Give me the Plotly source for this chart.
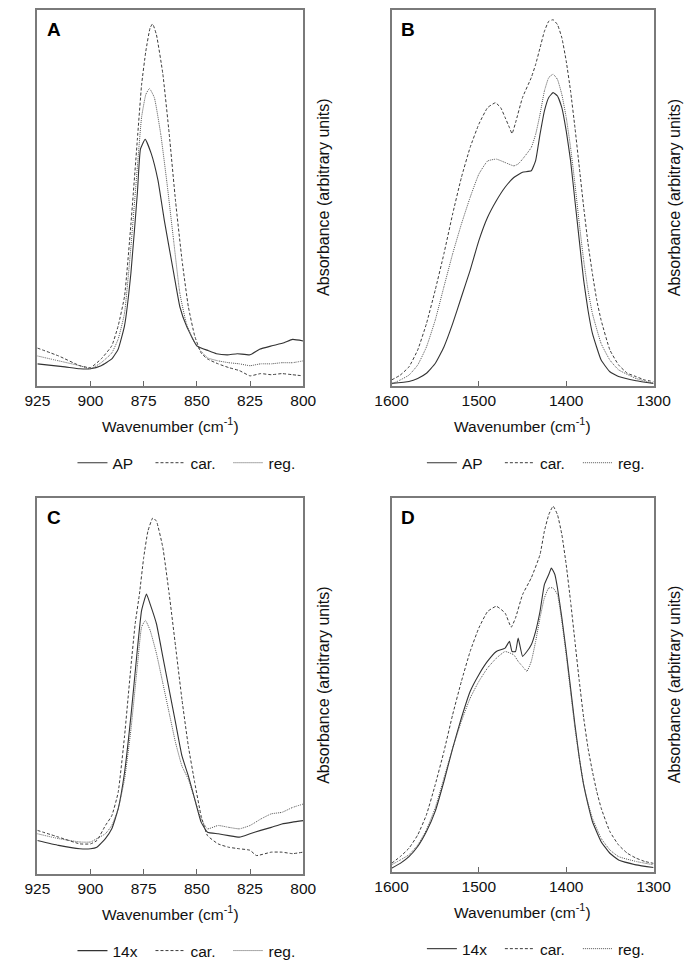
import plotly.graph_objects as go

# ---------------- data ----------------
# Panel A (870 cm-1 region)
A_ap_wn = [925, 912, 905, 900, 895, 890, 887, 884, 881, 878, 876.5, 874.3, 871.4, 868.3, 865.3, 860.9, 858, 854.9, 850, 844.6, 840.8, 835.6, 831, 825, 820.5, 814.7, 809, 805, 800]
A_ap = [0.058, 0.050, 0.045, 0.045, 0.053, 0.071, 0.097, 0.16, 0.30, 0.51, 0.63, 0.656, 0.617, 0.547, 0.44, 0.30, 0.21, 0.159, 0.106, 0.093, 0.085, 0.082, 0.085, 0.082, 0.097, 0.106, 0.114, 0.123, 0.119]
A_car_wn = [925, 915, 905, 900, 895, 890, 887, 884, 881, 878, 876, 874, 872, 870.8, 869, 866, 863, 860, 857, 854, 851, 848, 845, 840, 835, 830, 825, 820, 815, 810, 805, 800]
A_car = [0.10, 0.079, 0.053, 0.048, 0.071, 0.106, 0.159, 0.238, 0.43, 0.653, 0.80, 0.89, 0.952, 0.963, 0.934, 0.83, 0.67, 0.49, 0.335, 0.21, 0.132, 0.087, 0.071, 0.058, 0.048, 0.04, 0.026, 0.032, 0.029, 0.032, 0.029, 0.026]
A_reg_wn = [925, 915, 905, 900, 895, 890, 887, 884, 881, 878, 876, 874, 872.3, 870, 867, 864, 861, 858, 855, 852, 849, 845, 840, 835, 830, 825, 820, 815, 810, 805, 800]
A_reg = [0.079, 0.066, 0.053, 0.045, 0.061, 0.087, 0.124, 0.193, 0.37, 0.58, 0.714, 0.775, 0.791, 0.767, 0.67, 0.537, 0.39, 0.246, 0.167, 0.124, 0.098, 0.074, 0.066, 0.061, 0.058, 0.053, 0.058, 0.058, 0.061, 0.061, 0.066]

# Panel B (1400-1500 cm-1 region)
B_ap_wn = [1600, 1580, 1570, 1560, 1550, 1540, 1530, 1520, 1510, 1500, 1490, 1480, 1470, 1460, 1450, 1440, 1435, 1430, 1425, 1420, 1415, 1410, 1405, 1400, 1395, 1390, 1385, 1380, 1375, 1370, 1360, 1350, 1340, 1320, 1300]
B_ap = [0.006, 0.011, 0.019, 0.033, 0.059, 0.103, 0.165, 0.236, 0.307, 0.386, 0.448, 0.492, 0.528, 0.554, 0.568, 0.572, 0.599, 0.669, 0.731, 0.767, 0.78, 0.771, 0.740, 0.678, 0.599, 0.492, 0.386, 0.280, 0.2, 0.139, 0.068, 0.037, 0.024, 0.013, 0.006]
B_car_wn = [1600, 1590, 1580, 1570, 1560, 1550, 1540, 1530, 1520, 1510, 1500, 1490, 1481, 1475, 1470, 1465, 1462, 1458, 1450, 1440, 1435, 1430, 1425, 1420, 1415, 1410, 1405, 1400, 1395, 1390, 1385, 1380, 1375, 1370, 1365, 1360, 1350, 1340, 1330, 1320, 1310, 1300]
B_car = [0.015, 0.028, 0.05, 0.095, 0.165, 0.254, 0.351, 0.457, 0.554, 0.634, 0.696, 0.74, 0.753, 0.74, 0.714, 0.687, 0.671, 0.70, 0.767, 0.82, 0.855, 0.899, 0.943, 0.97, 0.974, 0.961, 0.926, 0.864, 0.784, 0.687, 0.581, 0.475, 0.378, 0.298, 0.227, 0.174, 0.095, 0.055, 0.033, 0.024, 0.015, 0.011]
B_reg_wn = [1600, 1590, 1580, 1570, 1560, 1550, 1540, 1530, 1520, 1510, 1500, 1490, 1480, 1470, 1460, 1455, 1450, 1440, 1435, 1430, 1425, 1420, 1415, 1410, 1405, 1400, 1395, 1390, 1385, 1380, 1375, 1370, 1360, 1350, 1340, 1320, 1300]
B_reg = [0.004, 0.015, 0.028, 0.055, 0.103, 0.174, 0.263, 0.351, 0.43, 0.501, 0.563, 0.598, 0.603, 0.594, 0.585, 0.59, 0.603, 0.634, 0.669, 0.722, 0.784, 0.82, 0.829, 0.815, 0.775, 0.714, 0.634, 0.537, 0.431, 0.333, 0.254, 0.192, 0.112, 0.068, 0.042, 0.019, 0.006]

# Panel C (870 cm-1 region)
C_14x_wn = [925, 915, 905, 900, 897, 893, 890, 887, 884, 881, 878, 876, 873.7, 872, 869, 866, 863, 860, 857, 854, 851, 848, 845, 840, 835, 830, 825, 820, 815, 810, 805, 800]
C_14x = [0.088, 0.075, 0.066, 0.066, 0.07, 0.093, 0.119, 0.172, 0.269, 0.419, 0.595, 0.70, 0.744, 0.718, 0.665, 0.577, 0.489, 0.401, 0.313, 0.26, 0.198, 0.137, 0.11, 0.106, 0.101, 0.097, 0.106, 0.115, 0.123, 0.132, 0.137, 0.141]
C_car_wn = [925, 915, 905, 900, 897, 893, 890, 887, 884, 881, 879, 877, 875, 873, 870.7, 869, 866, 863, 860, 857, 854, 851, 848, 845, 840, 835, 830, 825, 822, 815, 810, 805, 800]
C_car = [0.115, 0.097, 0.079, 0.079, 0.088, 0.128, 0.154, 0.216, 0.366, 0.551, 0.665, 0.744, 0.841, 0.912, 0.947, 0.938, 0.868, 0.744, 0.604, 0.463, 0.339, 0.242, 0.154, 0.101, 0.079, 0.07, 0.066, 0.062, 0.048, 0.057, 0.057, 0.053, 0.057]
C_reg_wn = [925, 915, 905, 900, 897, 893, 890, 887, 884, 881, 878, 876, 874.2, 872, 869, 866, 863, 860, 857, 854, 851, 848, 845, 840, 835, 830, 825, 820, 815, 810, 805, 800]
C_reg = [0.106, 0.093, 0.084, 0.084, 0.093, 0.106, 0.128, 0.172, 0.251, 0.383, 0.551, 0.656, 0.674, 0.648, 0.586, 0.507, 0.427, 0.348, 0.286, 0.251, 0.198, 0.145, 0.119, 0.128, 0.123, 0.119, 0.128, 0.145, 0.159, 0.163, 0.176, 0.185]

# Panel D (1400-1500 cm-1 region)
D_14x_wn = [1600, 1590, 1580, 1570, 1560, 1550, 1540, 1530, 1520, 1510, 1500, 1490, 1480, 1470, 1465, 1462, 1458, 1455, 1450, 1445, 1440, 1435, 1430, 1425, 1420, 1417, 1413, 1410, 1405, 1400, 1395, 1390, 1385, 1380, 1375, 1370, 1360, 1350, 1340, 1320, 1300]
D_14x = [0.009, 0.022, 0.04, 0.067, 0.107, 0.161, 0.241, 0.33, 0.411, 0.482, 0.527, 0.563, 0.589, 0.598, 0.616, 0.589, 0.589, 0.625, 0.576, 0.589, 0.607, 0.643, 0.696, 0.768, 0.795, 0.8125, 0.795, 0.759, 0.679, 0.589, 0.491, 0.393, 0.304, 0.232, 0.179, 0.134, 0.080, 0.049, 0.031, 0.018, 0.011]
D_car_wn = [1600, 1590, 1580, 1570, 1560, 1550, 1540, 1530, 1520, 1510, 1500, 1490, 1480, 1470, 1463, 1458, 1450, 1440, 1430, 1425, 1420, 1415, 1410, 1405, 1400, 1395, 1390, 1385, 1380, 1375, 1370, 1365, 1360, 1350, 1340, 1330, 1320, 1310, 1300]
D_car = [0.022, 0.04, 0.0625, 0.098, 0.152, 0.232, 0.321, 0.42, 0.509, 0.589, 0.652, 0.696, 0.71, 0.692, 0.654, 0.679, 0.741, 0.786, 0.848, 0.911, 0.955, 0.978, 0.955, 0.902, 0.821, 0.723, 0.616, 0.509, 0.411, 0.33, 0.268, 0.214, 0.17, 0.107, 0.071, 0.049, 0.036, 0.027, 0.022]
D_reg_wn = [1600, 1590, 1580, 1570, 1560, 1550, 1540, 1530, 1520, 1510, 1500, 1490, 1480, 1470, 1460, 1455, 1450, 1445, 1440, 1435, 1430, 1425, 1420, 1415, 1410, 1405, 1400, 1395, 1390, 1385, 1380, 1375, 1370, 1360, 1350, 1340, 1320, 1300]
D_reg = [0.018, 0.031, 0.045, 0.071, 0.112, 0.17, 0.25, 0.33, 0.402, 0.464, 0.509, 0.545, 0.571, 0.589, 0.58, 0.5625, 0.549, 0.536, 0.5625, 0.616, 0.679, 0.732, 0.759, 0.759, 0.741, 0.67, 0.58, 0.482, 0.384, 0.304, 0.232, 0.183, 0.143, 0.089, 0.058, 0.04, 0.027, 0.018]

ticks_870 = [925, 900, 875, 850, 825, 800]
ticks_1400 = [1600, 1500, 1400, 1300]
x_title = "Wavenumber (cm<sup>-1</sup>)"
y_title = "Absorbance (arbitrary units)"

# ---------------- layout helpers ----------------
W, H = 693, 960
FONT = "Liberation Sans, Arial, Helvetica, sans-serif"
FS = 15.5

def px(p):
    return p / W

def py(p):
    return 1 - p / H

STYLES = {
    "solid": dict(color="#333333", width=1.1, dash="solid"),
    "car": dict(color="#3c3c3c", width=1.0, dash="3px,2px"),
    "reg": dict(color="#555555", width=1.0, dash="1px,1px"),
}

panels = [
    dict(letter="A", n="", box=(13, 293, 2, 380), rng=[925, 800], ticks=ticks_870, legend="legend", lx=50,
         series=[("AP", A_ap_wn, A_ap, "solid"), ("car.", A_car_wn, A_car, "car"), ("reg.", A_reg_wn, A_reg, "reg")]),
    dict(letter="B", n="2", box=(386, 662, 2, 380), rng=[1600, 1300], ticks=ticks_1400, legend="legend2", lx=418,
         series=[("AP", B_ap_wn, B_ap, "solid"), ("car.", B_car_wn, B_car, "car"), ("reg.", B_reg_wn, B_reg, "reg")]),
    dict(letter="C", n="3", box=(13, 293, 493, 871), rng=[925, 800], ticks=ticks_870, legend="legend3", lx=50,
         series=[("14x", C_14x_wn, C_14x, "solid"), ("car.", C_car_wn, C_car, "car"), ("reg.", C_reg_wn, C_reg, "reg")]),
    dict(letter="D", n="4", box=(386, 662, 493, 869), rng=[1600, 1300], ticks=ticks_1400, legend="legend4", lx=418,
         series=[("14x", D_14x_wn, D_14x, "solid"), ("car.", D_car_wn, D_car, "car"), ("reg.", D_reg_wn, D_reg, "reg")]),
]

fig = go.Figure()
layout = dict(
    width=W, height=H, margin=dict(l=0, r=0, t=0, b=0),
    paper_bgcolor="white", plot_bgcolor="white",
    font=dict(family=FONT, size=FS, color="#111111"),
    annotations=[],
)

for p in panels:
    n = p["n"]
    x0, x1, y0, y1 = p["box"]
    xa = "x" + n
    ya = "y" + n
    for name, xs, ys, st in p["series"]:
        fig.add_trace(go.Scatter(
            x=xs, y=ys, mode="lines", name=name, xaxis=xa, yaxis=ya,
            line=dict(shape="spline", smoothing=0.4, **STYLES[st]),
            legend=p["legend"], showlegend=True, hoverinfo="skip",
        ))
    layout["xaxis" + n] = dict(
        domain=[px(x0), px(x1)], range=p["rng"], anchor=ya,
        showline=True, mirror=True, linecolor="#7a7a7a", linewidth=1.5,
        ticks="inside", ticklen=5, tickwidth=1, tickcolor="#666666",
        tickvals=p["ticks"], ticktext=[str(t) for t in p["ticks"]],
        tickfont=dict(size=FS, color="#111111"),
        showgrid=False, zeroline=False, fixedrange=True,
    )
    layout["yaxis" + n] = dict(
        domain=[py(y1), py(y0)], range=[0, 1], anchor=xa,
        showline=True, mirror=True, linecolor="#7a7a7a", linewidth=1.5,
        ticks="", showticklabels=False, showgrid=False, zeroline=False, fixedrange=True,
    )
    cx = (x0 + x1) / 2
    # x-axis title
    layout["annotations"].append(dict(
        text=x_title, x=px(cx), y=py(y1 + 40), xref="paper", yref="paper",
        xanchor="center", yanchor="middle", showarrow=False, font=dict(size=FS)))
    # y-axis title (on the right side)
    layout["annotations"].append(dict(
        text=y_title, x=px(x1 + 22), y=py((y0 + y1) / 2), xref="paper", yref="paper",
        xanchor="center", yanchor="middle", textangle=-90, showarrow=False, font=dict(size=16)))
    # panel letter
    layout["annotations"].append(dict(
        text="<b>" + p["letter"] + "</b>", x=px(x0 + 8), y=py(y0 + 20), xref="paper", yref="paper",
        xanchor="left", yanchor="middle", showarrow=False, font=dict(size=19, color="#000000")))
    # legend below the panel
    layout[p["legend"]] = dict(
        orientation="h", x=px(p["lx"]), y=py(y1 + 78), xref="paper", yref="paper",
        xanchor="left", yanchor="middle", bgcolor="rgba(0,0,0,0)",
        font=dict(size=FS), itemwidth=30, entrywidth=33, entrywidthmode="pixels",
    )

fig.update_layout(**layout)
fig.write_html("out.html")
